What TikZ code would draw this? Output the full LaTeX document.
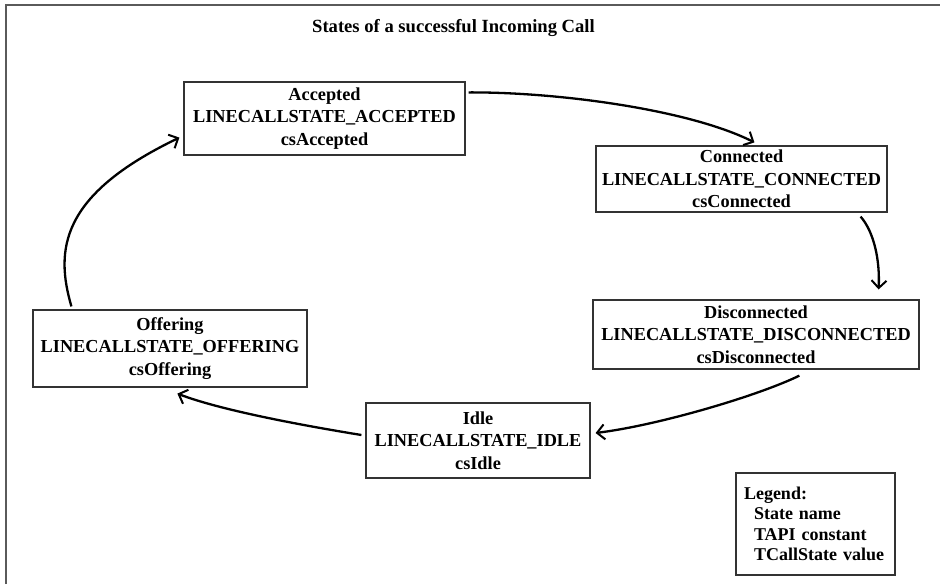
\documentclass[tikz,border=0pt]{standalone}
\usepackage{fontspec}
\setmainfont{Liberation Serif}
\usetikzlibrary{arrows.meta,calc}
\definecolor{framegray}{HTML}{5A5A5A}
\definecolor{boxline}{HTML}{333333}
\begin{document}
\begin{tikzpicture}[x=1pt,y=-1pt,
  statebox/.style={draw=boxline, line width=1.2pt, fill=white, align=center,
    inner sep=0pt, font=\fontsize{18.3}{22.5}\selectfont\bfseries},
  trans/.style={line width=2.3pt, black,
    -{Straight Barb[length=7.5pt,width=15pt,line width=2pt]}},
  legendbox/.style={draw=boxline, line width=1.2pt, fill=white, align=left,
    inner xsep=8pt, inner ysep=0pt, text width=143pt,
    minimum width=157pt, minimum height=102pt,
    font=\fontsize{18}{20.5}\selectfont\bfseries}]
  \useasboundingbox (0,0) rectangle (940,584);
  % page frame (top and left rules)
  \draw[framegray, line width=2pt] (6,584) -- (6,5) -- (940,5);

  % title
  \node[anchor=base, font=\fontsize{18.6}{22}\selectfont\bfseries] (title) at (453.5,32)
    {States of a successful Incoming Call};

  % call states
  \node[statebox, minimum width=281pt, minimum height=73pt] (acc) at (324.5,118.5)
    {Accepted\\LINECALLSTATE\_ACCEPTED\\csAccepted};
  \node[statebox, minimum width=291pt, minimum height=66pt] (conn) at (741.5,179)
    {Connected\\LINECALLSTATE\_CONNECTED\\csConnected};
  \node[statebox, minimum width=326pt, minimum height=69pt] (disc) at (756,334.5)
    {Disconnected\\LINECALLSTATE\_DISCONNECTED\\csDisconnected};
  \node[statebox, minimum width=224pt, minimum height=75pt] (idle) at (478,440.5)
    {Idle\\LINECALLSTATE\_IDLE\\csIdle};
  \node[statebox, minimum width=274pt, minimum height=77pt] (off) at (170,348.5)
    {Offering\\LINECALLSTATE\_OFFERING\\csOffering};

  % legend
  \node[legendbox] (legend) at (815.5,524)
    {Legend:\\\mbox{\hspace*{10pt}State name}\\\mbox{\hspace*{10pt}TAPI constant}\\\mbox{\hspace*{10pt}TCallState value}};

  % transitions
  \draw[trans] ($(acc.north east)+(3,11)$)
    .. controls (560,92) and (690,110) .. ($(conn.north west)+(159,-3)$);
  \draw[trans] ($(conn.south east)+(-27,4)$)
    .. controls (874,232) and (880,260) .. ($(disc.north east)+(-41,-10)$);
  \draw[trans] ($(disc.south west)+(207,6)$)
    .. controls (760,395) and (660,425) .. ($(idle.east)+(5,-7.5)$);
  \draw[trans] ($(idle.west)+(-4,-5.5)$)
    .. controls (300,425) and (220,410) .. ($(off.south west)+(145,6)$);
  \draw[trans] ($(off.north west)+(39,-3)$)
    .. controls (55,250) and (60,195) .. ($(acc.south west)+(-4,-18)$);
\end{tikzpicture}
\end{document}
